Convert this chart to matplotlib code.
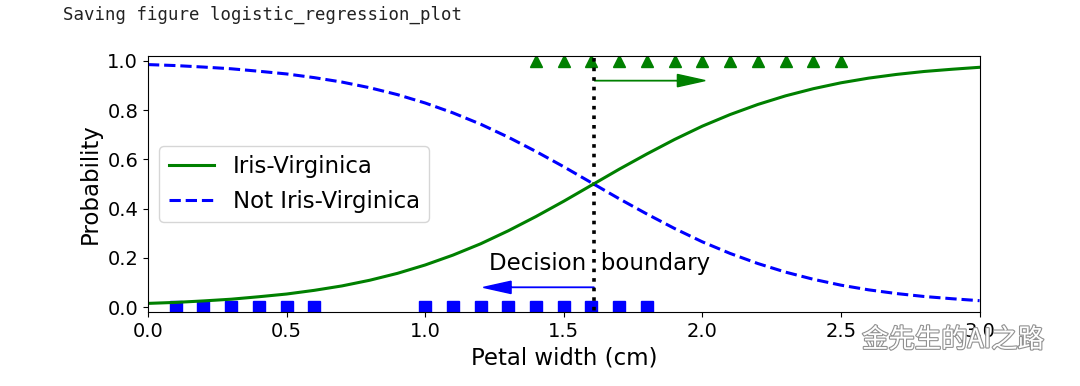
import matplotlib
matplotlib.use("Agg")
import matplotlib.pyplot as plt
import matplotlib.patheffects as pe

# Data
petal_width = [0.0, 0.1, 0.2, 0.3, 0.4, 0.5, 0.6, 0.7, 0.8, 0.9, 1.0,
               1.1, 1.2, 1.3, 1.4, 1.5, 1.6, 1.7, 1.8, 1.9, 2.0,
               2.1, 2.2, 2.3, 2.4, 2.5, 2.6, 2.7, 2.8, 2.9, 3.0]
p_virginica = [0.015, 0.019, 0.025, 0.032, 0.042, 0.053, 0.068, 0.086, 0.109, 0.137, 0.171,
               0.211, 0.257, 0.310, 0.368, 0.430, 0.495, 0.560, 0.622, 0.681, 0.735,
               0.782, 0.823, 0.858, 0.887, 0.911, 0.930, 0.945, 0.957, 0.966, 0.974]
p_not_virginica = [0.985, 0.981, 0.975, 0.968, 0.958, 0.947, 0.932, 0.914, 0.891, 0.863, 0.829,
                   0.789, 0.743, 0.690, 0.632, 0.570, 0.505, 0.440, 0.378, 0.319, 0.265,
                   0.218, 0.177, 0.142, 0.113, 0.089, 0.070, 0.055, 0.043, 0.034, 0.026]
neg_x = [0.1, 0.2, 0.3, 0.4, 0.5, 0.6, 1.0, 1.1, 1.2, 1.3, 1.4, 1.5, 1.6, 1.7, 1.8]
neg_y = [0] * len(neg_x)
pos_x = [1.4, 1.5, 1.6, 1.7, 1.8, 1.9, 2.0, 2.1, 2.2, 2.3, 2.4, 2.5]
pos_y = [1] * len(pos_x)
decision_boundary = 1.61

fig = plt.figure(figsize=(10.8, 3.86), dpi=100)
ax = fig.add_axes([0.137, 0.1917, 0.770, 0.6633])

ax.plot(neg_x, neg_y, "bs", markersize=9)
ax.plot(pos_x, pos_y, "g^", markersize=9)
ax.plot([decision_boundary, decision_boundary], [-1, 2], "k:", linewidth=2.6)
ax.plot(petal_width, p_virginica, "g-", linewidth=2.2, label="Iris-Virginica")
ax.plot(petal_width, p_not_virginica, "b--", linewidth=2.2, label="Not Iris-Virginica")
ax.text(decision_boundary + 0.02, 0.15, "Decision  boundary", fontsize=16.5,
        color="k", ha="center")
ax.arrow(decision_boundary, 0.08, -0.3, 0, head_width=0.05, head_length=0.1,
         fc="b", ec="b")
ax.arrow(decision_boundary, 0.92, 0.3, 0, head_width=0.05, head_length=0.1,
         fc="g", ec="g")
ax.set_xlabel("Petal width (cm)", fontsize=16.5)
ax.set_ylabel("Probability", fontsize=16.5)
ax.legend(loc="center left", fontsize=16.5)
ax.axis([0, 3, -0.02, 1.02])
ax.tick_params(labelsize=14)

fig.text(63 / 1080, 1 - 15 / 386, "Saving figure logistic_regression_plot",
         family="DejaVu Sans Mono", fontsize=12.5, color="#222222",
         ha="left", va="center")

wm = fig.text(862 / 1080, 1 - 340 / 386, "金先生的AI之路",
              family=["Noto Sans CJK SC", "DejaVu Sans"], fontsize=19,
              color="white", ha="left", va="center")
wm.set_path_effects([pe.withStroke(linewidth=1.6, foreground="#909090")])

fig.savefig("out.png", dpi=100)
